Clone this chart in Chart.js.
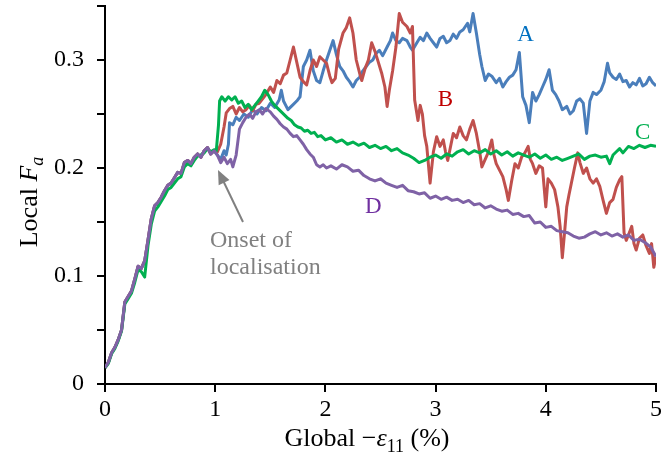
<!DOCTYPE html>
<html>
<head>
<meta charset="utf-8">
<script src="https://cdn.jsdelivr.net/npm/chart.js@4.4.1/dist/chart.umd.min.js"></script>
<style>
  html, body { margin: 0; padding: 0; background: #fff; }
  #wrap { width: 661px; height: 464px; }
</style>
</head>
<body>
<div id="wrap"><canvas id="chart" width="661" height="464"></canvas></div>
<script>
// loading ramp, shared by all specimens up to ~1% strain
const rampX = [0, 0.03, 0.06, 0.09, 0.12, 0.15, 0.18, 0.21, 0.24, 0.27, 0.30, 0.33, 0.36, 0.39, 0.42, 0.45, 0.48,
  0.51, 0.54, 0.57, 0.60, 0.63, 0.66, 0.69, 0.72, 0.75, 0.78, 0.81, 0.84, 0.87, 0.90, 0.93, 0.96, 0.99];
const rampY = [0.015, 0.020, 0.029, 0.034, 0.041, 0.050, 0.076, 0.081, 0.086, 0.097, 0.109, 0.107, 0.114, 0.133, 0.153, 0.165, 0.168,
  0.173, 0.179, 0.184, 0.186, 0.191, 0.196, 0.195, 0.205, 0.207, 0.204, 0.210, 0.213, 0.210, 0.216, 0.219, 0.213, 0.216];
const rampYC = [0.015, 0.019, 0.028, 0.033, 0.040, 0.049, 0.074, 0.079, 0.084, 0.094, 0.106, 0.104, 0.099, 0.128, 0.148, 0.160, 0.164,
  0.169, 0.174, 0.180, 0.182, 0.186, 0.190, 0.192, 0.201, 0.204, 0.202, 0.207, 0.211, 0.212, 0.214, 0.218, 0.215, 0.217];

// A (blue)
const aX = [1.02, 1.05, 1.08, 1.10, 1.12, 1.13, 1.16, 1.19, 1.22, 1.26, 1.30, 1.34, 1.38, 1.42, 1.46, 1.50, 1.54, 1.58, 1.60, 1.62,
  1.66, 1.70, 1.74, 1.77, 1.80, 1.83, 1.86, 1.89, 1.92, 1.95, 1.98, 2.01, 2.04, 2.07, 2.10, 2.13, 2.16, 2.19, 2.22, 2.25,
  2.28, 2.31, 2.34, 2.37, 2.40, 2.43, 2.46, 2.49, 2.52, 2.56, 2.59, 2.61, 2.64, 2.67, 2.70, 2.74, 2.77, 2.79, 2.83, 2.86,
  2.89, 2.92, 2.95, 2.98, 3.01, 3.04, 3.07, 3.10, 3.13, 3.16, 3.19, 3.22, 3.25, 3.29, 3.31, 3.34, 3.37, 3.40, 3.42, 3.45,
  3.48, 3.51, 3.55, 3.58, 3.61, 3.64, 3.67, 3.70, 3.73, 3.76, 3.79, 3.82, 3.85, 3.88, 3.91, 3.94, 3.97, 4.00, 4.03, 4.06,
  4.09, 4.12, 4.15, 4.19, 4.22, 4.25, 4.28, 4.31, 4.34, 4.37, 4.40, 4.43, 4.46, 4.50, 4.53, 4.56, 4.58, 4.61, 4.64, 4.67,
  4.70, 4.73, 4.76, 4.79, 4.82, 4.85, 4.88, 4.91, 4.94, 4.97, 5.00];
const aY = [0.212, 0.208, 0.216, 0.212, 0.222, 0.242, 0.240, 0.247, 0.244, 0.250, 0.247, 0.254, 0.250, 0.256, 0.253, 0.260, 0.256, 0.263, 0.272, 0.262,
  0.254, 0.258, 0.262, 0.266, 0.294, 0.300, 0.309, 0.290, 0.281, 0.279, 0.290, 0.300, 0.309, 0.318, 0.305, 0.294, 0.290, 0.284, 0.280, 0.275,
  0.281, 0.284, 0.290, 0.294, 0.298, 0.300, 0.306, 0.309, 0.304, 0.312, 0.318, 0.325, 0.318, 0.316, 0.320, 0.318, 0.312, 0.309, 0.316, 0.321,
  0.318, 0.325, 0.320, 0.316, 0.312, 0.320, 0.322, 0.316, 0.318, 0.324, 0.320, 0.326, 0.328, 0.334, 0.326, 0.343, 0.325, 0.305, 0.294, 0.281,
  0.287, 0.285, 0.279, 0.283, 0.275, 0.280, 0.284, 0.286, 0.291, 0.307, 0.266, 0.258, 0.242, 0.270, 0.262, 0.268, 0.275, 0.282, 0.291, 0.272,
  0.268, 0.262, 0.254, 0.257, 0.250, 0.253, 0.262, 0.264, 0.260, 0.232, 0.262, 0.270, 0.268, 0.272, 0.280, 0.297, 0.288, 0.284, 0.282, 0.287,
  0.280, 0.281, 0.275, 0.279, 0.277, 0.283, 0.276, 0.278, 0.284, 0.279, 0.276];

// B (red)
const bX = [1.02, 1.05, 1.08, 1.10, 1.13, 1.16, 1.19, 1.22, 1.25, 1.28, 1.31, 1.34, 1.37, 1.40, 1.43, 1.46, 1.50, 1.53, 1.56, 1.59,
  1.62, 1.65, 1.68, 1.71, 1.74, 1.77, 1.80, 1.83, 1.86, 1.89, 1.92, 1.95, 1.98, 2.01, 2.04, 2.06, 2.09, 2.12, 2.16, 2.19,
  2.22, 2.25, 2.28, 2.31, 2.33, 2.36, 2.39, 2.42, 2.45, 2.48, 2.51, 2.54, 2.56, 2.58, 2.61, 2.64, 2.67, 2.70, 2.74, 2.77,
  2.79, 2.81, 2.84, 2.86, 2.88, 2.90, 2.92, 2.95, 2.98, 3.01, 3.04, 3.07, 3.09, 3.11, 3.14, 3.16, 3.19, 3.22, 3.25, 3.28,
  3.31, 3.34, 3.37, 3.40, 3.42, 3.45, 3.48, 3.51, 3.53, 3.55, 3.58, 3.61, 3.64, 3.66, 3.69, 3.72, 3.75, 3.78, 3.81, 3.84,
  3.86, 3.88, 3.91, 3.94, 3.97, 4.00, 4.02, 4.05, 4.08, 4.11, 4.13, 4.15, 4.17, 4.19, 4.21, 4.23, 4.26, 4.29, 4.31, 4.34,
  4.37, 4.40, 4.43, 4.46, 4.49, 4.52, 4.55, 4.58, 4.61, 4.64, 4.67, 4.69, 4.71, 4.73, 4.75, 4.78, 4.80, 4.82, 4.85, 4.88,
  4.91, 4.94, 4.96, 4.98, 5.00];
const bY = [0.215, 0.222, 0.238, 0.251, 0.255, 0.257, 0.250, 0.256, 0.252, 0.254, 0.258, 0.253, 0.259, 0.260, 0.264, 0.268, 0.275, 0.270, 0.281, 0.278,
  0.286, 0.288, 0.300, 0.312, 0.298, 0.284, 0.280, 0.277, 0.290, 0.300, 0.294, 0.303, 0.300, 0.297, 0.285, 0.279, 0.283, 0.310, 0.325, 0.330,
  0.339, 0.325, 0.300, 0.288, 0.281, 0.292, 0.300, 0.316, 0.308, 0.298, 0.288, 0.275, 0.257, 0.272, 0.290, 0.312, 0.343, 0.335, 0.331, 0.325,
  0.331, 0.263, 0.244, 0.258, 0.250, 0.230, 0.220, 0.186, 0.215, 0.229, 0.220, 0.226, 0.215, 0.207, 0.222, 0.232, 0.228, 0.238, 0.230, 0.226,
  0.236, 0.244, 0.232, 0.215, 0.201, 0.208, 0.215, 0.226, 0.212, 0.204, 0.198, 0.192, 0.180, 0.170, 0.188, 0.204, 0.200, 0.210, 0.214, 0.220,
  0.208, 0.204, 0.195, 0.202, 0.200, 0.164, 0.190, 0.186, 0.180, 0.164, 0.146, 0.117, 0.140, 0.164, 0.175, 0.185, 0.200, 0.214, 0.205, 0.195,
  0.200, 0.190, 0.186, 0.190, 0.183, 0.170, 0.158, 0.168, 0.171, 0.182, 0.189, 0.192, 0.140, 0.133, 0.138, 0.146, 0.130, 0.124, 0.135, 0.138,
  0.128, 0.121, 0.130, 0.108, 0.118];

// C (green)
const cX = [1.01, 1.03, 1.04, 1.06, 1.09, 1.12, 1.15, 1.18, 1.21, 1.24, 1.27, 1.30, 1.33, 1.36, 1.39, 1.42, 1.45, 1.48, 1.51, 1.54,
  1.57, 1.60, 1.63, 1.66, 1.69, 1.72, 1.75, 1.78, 1.81, 1.84, 1.87, 1.90, 1.93, 1.96, 2.00, 2.05, 2.10, 2.15, 2.20, 2.25,
  2.30, 2.35, 2.40, 2.45, 2.50, 2.55, 2.60, 2.65, 2.70, 2.75, 2.80, 2.85, 2.90, 2.95, 3.00, 3.05, 3.10, 3.15, 3.20, 3.25,
  3.30, 3.35, 3.40, 3.45, 3.50, 3.55, 3.60, 3.65, 3.70, 3.75, 3.80, 3.85, 3.90, 3.95, 4.00, 4.05, 4.10, 4.15, 4.20, 4.25,
  4.30, 4.35, 4.40, 4.45, 4.50, 4.55, 4.58, 4.61, 4.64, 4.67, 4.70, 4.75, 4.80, 4.85, 4.90, 4.95, 5.00];
const cY = [0.216, 0.240, 0.262, 0.266, 0.262, 0.266, 0.263, 0.266, 0.260, 0.262, 0.256, 0.259, 0.254, 0.258, 0.262, 0.266, 0.272, 0.268, 0.262, 0.258,
  0.255, 0.252, 0.249, 0.246, 0.244, 0.240, 0.238, 0.237, 0.234, 0.235, 0.232, 0.233, 0.229, 0.230, 0.226, 0.228, 0.224, 0.226, 0.222, 0.224,
  0.221, 0.223, 0.219, 0.221, 0.218, 0.220, 0.216, 0.218, 0.214, 0.212, 0.209, 0.205, 0.207, 0.210, 0.212, 0.209, 0.213, 0.211, 0.215, 0.217,
  0.213, 0.216, 0.214, 0.217, 0.213, 0.216, 0.212, 0.215, 0.211, 0.214, 0.212, 0.210, 0.213, 0.209, 0.212, 0.208, 0.210, 0.207, 0.209, 0.211,
  0.213, 0.208, 0.211, 0.212, 0.210, 0.211, 0.204, 0.212, 0.215, 0.218, 0.214, 0.220, 0.218, 0.221, 0.219, 0.221, 0.220];

// D (purple)
const dX = [1.02, 1.05, 1.08, 1.11, 1.14, 1.16, 1.19, 1.22, 1.25, 1.28, 1.31, 1.34, 1.37, 1.40, 1.43, 1.46, 1.50, 1.53, 1.56, 1.59,
  1.62, 1.65, 1.68, 1.71, 1.74, 1.77, 1.80, 1.83, 1.86, 1.89, 1.92, 1.95, 1.98, 2.01, 2.05, 2.10, 2.15, 2.20, 2.25, 2.30,
  2.35, 2.40, 2.45, 2.50, 2.55, 2.60, 2.65, 2.70, 2.75, 2.80, 2.85, 2.90, 2.95, 3.00, 3.05, 3.10, 3.15, 3.20, 3.25, 3.30,
  3.35, 3.40, 3.45, 3.50, 3.55, 3.60, 3.65, 3.70, 3.75, 3.80, 3.85, 3.90, 3.95, 4.00, 4.05, 4.10, 4.15, 4.20, 4.25, 4.30,
  4.35, 4.40, 4.45, 4.50, 4.55, 4.60, 4.65, 4.70, 4.75, 4.80, 4.85, 4.90, 4.95, 5.00];
const dY = [0.212, 0.205, 0.210, 0.204, 0.208, 0.201, 0.212, 0.236, 0.242, 0.247, 0.250, 0.246, 0.252, 0.254, 0.250, 0.255, 0.252, 0.248, 0.245, 0.241,
  0.238, 0.236, 0.232, 0.229, 0.230, 0.226, 0.222, 0.217, 0.213, 0.210, 0.203, 0.201, 0.203, 0.200, 0.202, 0.199, 0.203, 0.201, 0.197, 0.198,
  0.193, 0.190, 0.188, 0.190, 0.186, 0.184, 0.182, 0.184, 0.179, 0.178, 0.176, 0.177, 0.172, 0.174, 0.171, 0.173, 0.170, 0.171, 0.168, 0.170,
  0.166, 0.167, 0.163, 0.165, 0.162, 0.160, 0.161, 0.157, 0.158, 0.155, 0.156, 0.149, 0.150, 0.145, 0.146, 0.142, 0.141, 0.140, 0.137, 0.135,
  0.136, 0.139, 0.141, 0.138, 0.140, 0.137, 0.139, 0.136, 0.138, 0.133, 0.134, 0.131, 0.127, 0.118];

const xTicks = [0, 1, 2, 3, 4, 5];
const yTicks = [0, 0.1, 0.2, 0.3];

const toPoints = (xs, ys) => xs.map((x, i) => ({ x, y: ys[i] }));

const series = [
  { label: "D", color: "#7f62a6", pts: toPoints(rampX.concat(dX), rampY.concat(dY)) },
  { label: "C", color: "#00b050", pts: toPoints(rampX.concat(cX), rampYC.concat(cY)) },
  { label: "B", color: "#c0504d", pts: toPoints(rampX.concat(bX), rampY.concat(bY)) },
  { label: "A", color: "#4a7ebb", pts: toPoints(rampX.concat(aX), rampY.concat(aY)) },
];

// curve letters and the onset note, in data coordinates
const letters = [
  { text: "A", x: 3.74, y: 0.318, color: "#0070c0" },
  { text: "B", x: 3.02, y: 0.257, color: "#c00000" },
  { text: "C", x: 4.81, y: 0.227, color: "#00b050" },
  { text: "D", x: 2.36, y: 0.158, color: "#7030a0" },
];

const serif = '"Liberation Serif", "Times New Roman", serif';

const overlay = {
  id: "overlay",
  afterDraw(chart) {
    const { ctx, scales } = chart;
    const sx = scales.x, sy = scales.y;
    ctx.save();

    // letters
    ctx.font = "23px " + serif;
    ctx.textAlign = "left";
    ctx.textBaseline = "alphabetic";
    letters.forEach((l) => {
      ctx.fillStyle = l.color;
      ctx.fillText(l.text, sx.getPixelForValue(l.x), sy.getPixelForValue(l.y));
    });

    // onset note + arrow
    ctx.fillStyle = "#808080";
    ctx.font = "24px " + serif;
    ctx.fillText("Onset of", 210, 247);
    ctx.fillText("localisation", 210, 274);
    ctx.strokeStyle = "#808080";
    ctx.lineWidth = 2;
    const x0 = 243, y0 = 222, x1 = 218, y1 = 170;
    const ang = Math.atan2(y1 - y0, x1 - x0);
    ctx.beginPath();
    ctx.moveTo(x0, y0);
    ctx.lineTo(x1 - 10 * Math.cos(ang), y1 - 10 * Math.sin(ang));
    ctx.stroke();
    ctx.beginPath();
    ctx.moveTo(x1, y1);
    ctx.lineTo(x1 - 14 * Math.cos(ang) + 6 * Math.sin(ang), y1 - 14 * Math.sin(ang) - 6 * Math.cos(ang));
    ctx.lineTo(x1 - 14 * Math.cos(ang) - 6 * Math.sin(ang), y1 - 14 * Math.sin(ang) + 6 * Math.cos(ang));
    ctx.closePath();
    ctx.fill();

    // x title: Global −ε11 (%)
    ctx.fillStyle = "#000";
    const parts = [
      { t: "Global \u2212", f: "26px " + serif, dy: 0 },
      { t: "\u03b5", f: "italic 26px " + serif, dy: 0 },
      { t: "11", f: "18px " + serif, dy: 6 },
      { t: " (%)", f: "26px " + serif, dy: 0 },
    ];
    let w = 0;
    parts.forEach((p) => { ctx.font = p.f; w += ctx.measureText(p.t).width; });
    let cx = 367 - w / 2;
    parts.forEach((p) => {
      ctx.font = p.f;
      ctx.fillText(p.t, cx, 446 + p.dy);
      cx += ctx.measureText(p.t).width;
    });

    // y title: Local Fa (rotated)
    ctx.translate(37, 202);
    ctx.rotate(-Math.PI / 2);
    const yparts = [
      { t: "Local ", f: "26px " + serif, dy: 0 },
      { t: "F", f: "italic 26px " + serif, dy: 0 },
      { t: "a", f: "italic 18px " + serif, dy: 6 },
    ];
    w = 0;
    yparts.forEach((p) => { ctx.font = p.f; w += ctx.measureText(p.t).width; });
    cx = -w / 2;
    yparts.forEach((p) => {
      ctx.font = p.f;
      ctx.fillText(p.t, cx, p.dy);
      cx += ctx.measureText(p.t).width;
    });

    ctx.restore();
  },
};

new Chart(document.getElementById("chart"), {
  type: "line",
  data: {
    datasets: series.map((s, i) => ({
      label: s.label,
      data: s.pts,
      borderColor: s.color,
      borderWidth: 3,
      borderJoinStyle: "round",
      pointRadius: 0,
      tension: 0,
      fill: false,
      order: i,
    })),
  },
  options: {
    responsive: false,
    animation: false,
    layout: { padding: { top: 6, right: 5, left: 0, bottom: 0 } },
    plugins: { legend: { display: false }, tooltip: { enabled: false } },
    scales: {
      x: {
        type: "linear",
        min: 0,
        max: 5,
        afterFit: (s) => { s.height = 80; s.paddingLeft = 0; s.paddingRight = 0; },
        afterBuildTicks: (s) => { s.ticks = xTicks.map((v) => ({ value: v })); },
        ticks: {
          font: { family: serif, size: 24 },
          color: "#000",
          padding: 3,
          callback: (v) => String(v),
        },
        grid: { drawOnChartArea: false, drawTicks: true, tickLength: 8, color: "#000", lineWidth: 2 },
        border: { display: true, color: "#000", width: 2 },
      },
      y: {
        min: 0,
        max: 0.35,
        afterFit: (s) => { s.width = 105; s.paddingTop = 0; s.paddingBottom = 0; },
        ticks: {
          stepSize: 0.05,
          font: { family: serif, size: 24 },
          color: "#000",
          padding: 13,
          callback: (v) => {
            const hit = yTicks.find((t) => Math.abs(t - v) < 1e-6);
            if (hit === undefined) return "";
            return hit === 0 ? "0" : hit.toFixed(1);
          },
        },
        grid: { drawOnChartArea: false, drawTicks: true, tickLength: 8, color: "#000", lineWidth: 2 },
        border: { display: true, color: "#000", width: 2 },
      },
    },
  },
  plugins: [overlay],
});
</script>
</body>
</html>
